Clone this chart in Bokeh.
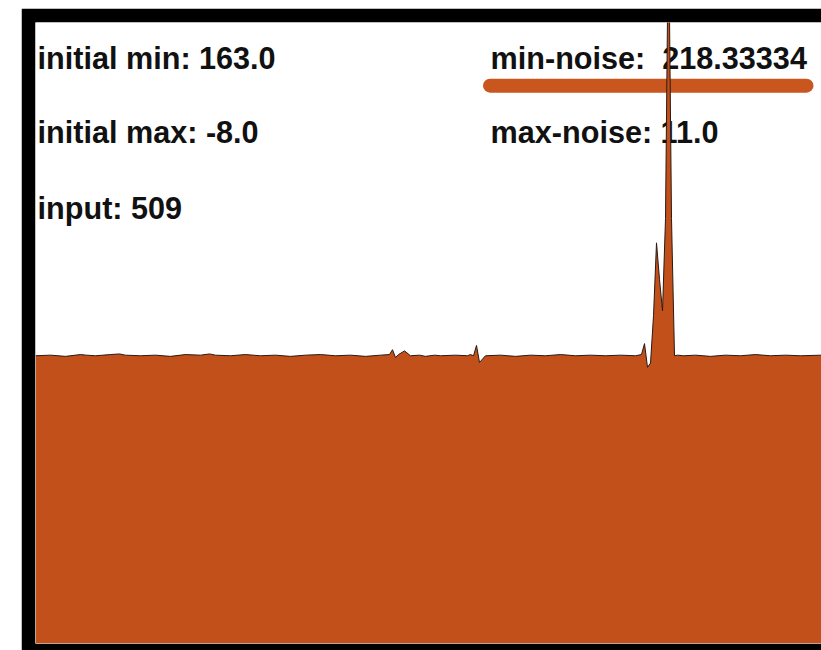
from bokeh.plotting import figure
from bokeh.models import Range1d, ColumnDataSource
from bokeh.core.properties import value
from bokeh.embed import file_html
from bokeh.resources import INLINE

# sample index (x) and sensor reading (y)
sample_x = [0, 5, 10, 15, 17, 20, 25, 28, 30, 35, 40, 45, 50, 55, 58, 60, 65, 70, 75, 80,
            85, 90, 95, 100, 105, 110, 115, 118, 119, 120, 121, 123, 125, 128, 130, 133, 135,
            140, 144, 145, 146, 147, 148, 150, 155, 160, 165, 170, 175, 180, 185, 190, 195,
            200, 202, 203, 204, 205, 206, 207, 208, 209, 210, 211, 212, 213, 214, 216, 220,
            225, 230, 235, 240, 245, 250, 255, 262]
sample_y = [474, 475, 473, 476, 475, 474, 476, 477, 475, 474, 475, 473, 476, 475, 477, 475, 474, 476, 474, 475,
            473, 475, 476, 474, 475, 473, 475, 476, 484, 471, 476, 482, 474, 475, 473, 475, 474,
            475, 474, 476, 474, 491, 463, 474, 475, 473, 475, 474, 476, 474, 475, 474, 475,
            474, 476, 494, 455, 462, 540, 660, 600, 548, 700, 1200, 700, 474, 475, 474, 475,
            473, 475, 474, 476, 474, 475, 474, 475]

left_labels = ["initial min: 163.0", "initial max: -8.0", "input: 509"]
right_labels = ["min-noise: \u00a0218.33334", "max-noise: 11.0"]
label_rows = [965, 842, 718]
bar_x = [151.5, 257]
bar_y = [919, 919]

ORANGE = "#C2501B"

p = figure(width=800, height=642, output_backend="svg", toolbar_location=None,
           x_range=Range1d(0, 262), y_range=Range1d(0, 1023),
           min_border_left=14, min_border_top=14, min_border_bottom=7, min_border_right=0,
           margin=(8, 0, 0, 21))
p.xaxis.visible = False
p.yaxis.visible = False
p.grid.visible = False
p.outline_line_color = None
p.border_fill_color = "black"
p.background_fill_color = "white"

src = ColumnDataSource(dict(x=sample_x, y=sample_y))

p.text(x=[0.7] * 3, y=label_rows, text=left_labels, text_font=value("Liberation Sans"),
       text_font_style="bold", text_font_size="30.6px", text_color="#111111",
       text_baseline="alphabetic", text_align="left")
p.text(x=[151.7] * 2, y=label_rows[:2], text=right_labels, text_font=value("Liberation Sans"),
       text_font_style="bold", text_font_size="30.6px", text_color="#111111",
       text_baseline="alphabetic", text_align="left")
p.line(bar_x, bar_y, line_color="#C9561E", line_width=14, line_cap="round")

p.varea(x="x", y1=0, y2="y", source=src, fill_color=ORANGE)
p.line(x="x", y="y", source=src, line_color="#2a1a12", line_width=1)

open("out.html", "w").write(file_html(p, INLINE))
